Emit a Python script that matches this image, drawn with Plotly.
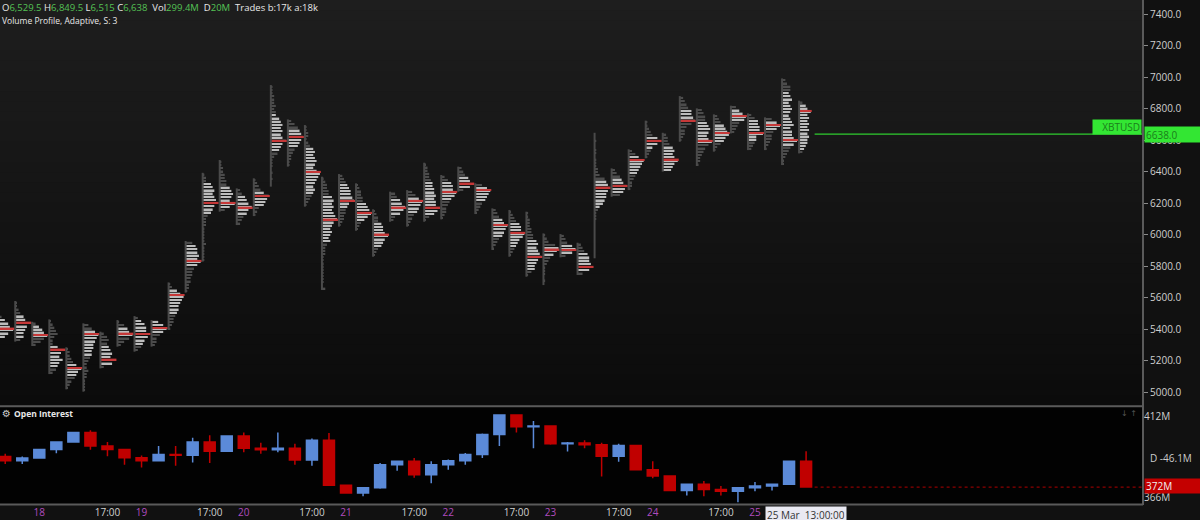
import pandas as pd
import plotly.graph_objects as go

# ---------------- data ----------------
# 4-hour candles, 17 Mar 17:00 .. 25 Mar 13:00 (2020)
candle_times = pd.date_range("2020-03-17 17:00", periods=48, freq="4h")

# volume profile per candle (price range, point of control, value area)
prof_high = [5489, 5578, 5446, 5461, 5284, 5436, 5383, 5457, 5482, 5457, 5696, 5959,
             6392, 6473, 6293, 6357, 6949, 6731, 6695, 6367, 6384, 6325, 6160, 6272,
             6282, 6456, 6378, 6431, 6325, 6166, 6156, 6145, 6007, 6003, 5948, 6646,
             6420, 6541, 6723, 6646, 6879, 6801, 6763, 6818, 6769, 6744, 6991, 6849.5]
prof_low = [5341, 5320, 5292, 5114, 5017, 5002, 5150, 5288, 5256, 5288, 5394, 5631,
            5828, 6145, 6060, 6117, 6304, 6431, 6177, 5648, 6050, 6024, 5859, 6081,
            6050, 6081, 6096, 6272, 6130, 5902, 5859, 5732, 5679, 5855, 5743, 5849,
            6240, 6282, 6484, 6399, 6589, 6435, 6526, 6642, 6536, 6536, 6441, 6515]
prof_poc = [5404, 5442, 5362, 5271, 5154, 5368, 5207, 5372, 5368, 5408, 5616, 5834,
            6202, 6202, 6172, 6246, 6596, 6621, 6399, 6096, 6215, 6139, 6001, 6172,
            6215, 6172, 6272, 6325, 6282, 6060, 6012, 5859, 5906, 5902, 5796, 6299,
            6310, 6473, 6596, 6477, 6723, 6596, 6646, 6752, 6646, 6695, 6600, 6786]
prof_va_high = [5468, 5483, 5425, 5305, 5182, 5404, 5298, 5425, 5457, 5447, 5658, 5944,
                6325, 6314, 6251, 6283, 6759, 6668, 6558, 6251, 6325, 6208, 6081, 6230,
                6240, 6346, 6346, 6378, 6314, 6113, 6071, 5976, 5933, 5933, 5891, 6357,
                6357, 6505, 6632, 6568, 6801, 6727, 6706, 6790, 6727, 6727, 6917, 6833]
prof_va_low = [5351, 5351, 5341, 5150, 5097, 5229, 5171, 5341, 5298, 5372, 5499, 5796,
               6124, 6172, 6124, 6177, 6526, 6547, 6261, 5954, 6166, 6092, 5923, 6134,
               6134, 6124, 6208, 6299, 6208, 5986, 5923, 5775, 5859, 5876, 5764, 6177,
               6251, 6388, 6553, 6409, 6706, 6568, 6589, 6727, 6589, 6653, 6558, 6526]
# relative volume per price row, top row first (0-9)
prof_hist = [
    "2467964", "112356976553", "24679752", "12345322597686542",
    "1223469765321", "357987665543223221111", "24545676972", "14679742",
    "24677986542", "47975332", "125798766543321", "4677879754433221",
    "1225676789765322211111211111", "1122334467876963", "23567976432", "123469876321",
    "11122232335676767976542111010100", "246789876432211",
    "11221235656765798765654321", "123344676767897656545322211111111102",
    "23456778965443321", "123344678975321", "123356679765321", "346798632",
    "35798764321", "1223345566767798631", "24677986543321", "23467973",
    "4798764321", "2346798764321", "123467798654321", "112223344676789765531",
    "1237986432111010", "2347973", "2346778973",
    "0010011011122367898776532111000000000000",
    "235679875", "2469876543221", "112347974321", "233467679765",
    "23457789743321", "345567876797543221", "234678976421", "357985432",
    "246677955432", "4797544321", "235545645654567566797543211", "24575656565655432",
]

# open interest candles (millions of contracts)
oi_open = [389.2, 386.9, 388.4, 393.3, 397.5, 402.9, 395.2, 393.3, 388.6, 386.9, 390.4, 390.0,
           397.5, 392.3, 401.0, 394.0, 393.1, 394.0, 387.3, 398.5, 372.8, 368.5, 371.4, 384.6,
           386.5, 378.8, 384.6, 386.9, 390.4, 401.8, 413.0, 406.2, 406.6, 396.6, 397.0, 396.0,
           389.4, 395.6, 381.7, 378.2, 369.9, 373.4, 370.5, 369.5, 371.4, 372.4, 373.4, 386.5]
oi_high = [390.8, 389.2, 393.7, 397.9, 403.3, 404.3, 397.5, 393.7, 389.8, 395.2, 395.2, 400.0,
           401.4, 401.4, 402.9, 397.1, 402.9, 396.6, 399.5, 402.7, 372.8, 371.8, 385.5, 386.9,
           388.4, 386.5, 387.5, 391.3, 402.4, 413.4, 413.4, 409.5, 407.0, 397.5, 398.5, 397.1,
           396.6, 395.6, 386.5, 378.2, 373.4, 375.3, 372.4, 371.8, 374.7, 373.4, 386.5, 392.3]
oi_low = [385.0, 385.0, 388.2, 391.1, 397.5, 393.1, 389.4, 384.6, 383.0, 386.5, 384.0, 385.9,
          385.5, 392.3, 391.7, 390.8, 391.7, 384.6, 384.0, 372.8, 368.1, 366.6, 370.9, 381.1,
          377.2, 374.0, 381.7, 384.6, 388.4, 395.2, 402.9, 394.0, 396.0, 392.1, 394.0, 377.8,
          386.3, 381.7, 376.9, 369.9, 367.0, 366.6, 367.0, 363.1, 369.5, 369.9, 373.0, 371.8]
oi_close = [386.9, 388.4, 393.3, 397.5, 402.9, 395.2, 393.3, 388.6, 386.9, 390.4, 390.0, 397.5,
            392.3, 401.0, 394.0, 393.1, 394.0, 387.3, 398.5, 372.8, 368.5, 371.4, 384.6, 386.5,
            378.8, 384.6, 386.9, 390.4, 401.8, 413.0, 406.2, 406.6, 396.6, 397.0, 396.0, 389.4,
            395.6, 381.7, 378.2, 369.9, 373.4, 370.5, 369.5, 371.4, 372.4, 373.4, 386.5, 371.8]

symbol = "XBTUSD"
last_ohlc = ["6,529.5", "6,849.5", "6,515", "6,638"]
last_close = 6638.0
vol_text, delta_text = "299.4M", "20M"
trades_text = "Trades b:17k a:18k"
study_text = "Volume Profile, Adaptive, S: 3"
oi_axis_ticks = [412, 366]
oi_delta_text = "D -46.1M"

# ---------------- style ----------------
LIGHT, DARK, POC_RED, RANGE_LINE = "#bcbcbc", "#4c4c4c", "#c63838", "#4a4a4a"
FONT = "Open Sans"
x_range = ["2020-03-17 15:46:30", "2020-03-28 20:05:00"]
y_range = [4917.5, 7489.0]
oi_range = [361.6, 416.9]

HOUR_MS = 3600 * 1000
edge = pd.Timedelta(hours=1.65)
unit = 0.391 * HOUR_MS

bar_base, bar_len, bar_y, bar_w, bar_c = [], [], [], [], []
poc_base, poc_len, poc_y = [], [], []
line_x, line_y = [], []
for i, t in enumerate(candle_times):
    hi, lo, s = prof_high[i], prof_low[i], prof_hist[i]
    step = (hi - lo) / len(s)
    left = t - edge
    ls = left.strftime("%Y-%m-%d %H:%M:%S")
    line_x += [left, left, None]
    line_y += [lo, hi, None]
    for j, ch in enumerate(s):
        v = int(ch)
        if v == 0:
            continue
        p = hi - (j + 0.5) * step
        bar_base.append(ls)
        bar_len.append(v * unit)
        bar_y.append(p)
        bar_w.append(step * 0.5)
        bar_c.append(LIGHT if prof_va_low[i] <= p <= prof_va_high[i] else DARK)
    poc_base.append(ls)
    poc_len.append((max(int(c) for c in s) + 0.6) * unit)
    poc_y.append(prof_poc[i])

fig = go.Figure()

fig.add_trace(go.Scatter(x=line_x, y=line_y, mode="lines",
                         line=dict(color=RANGE_LINE, width=2), hoverinfo="skip",
                         xaxis="x", yaxis="y"))
fig.add_trace(go.Bar(orientation="h", base=bar_base, x=bar_len, y=bar_y, width=bar_w,
                     marker=dict(color=bar_c, line=dict(width=0)), hoverinfo="skip",
                     xaxis="x", yaxis="y"))
fig.add_trace(go.Bar(orientation="h", base=poc_base, x=poc_len, y=poc_y, width=10,
                     marker=dict(color=POC_RED, line=dict(width=0)), hoverinfo="skip",
                     xaxis="x", yaxis="y"))

t_after = candle_times[-1] + pd.Timedelta(hours=2)
fig.add_trace(go.Scatter(x=[t_after, x_range[1]], y=[last_close, last_close], mode="lines",
                         line=dict(color="#2ecc2e", width=1.3), hoverinfo="skip",
                         xaxis="x", yaxis="y"))

fig.add_trace(go.Candlestick(x=candle_times, open=oi_open, high=oi_high, low=oi_low,
                             close=oi_close, whiskerwidth=0,
                             increasing=dict(line=dict(color="#5b8ad8", width=1.5),
                                             fillcolor="#5b8ad8"),
                             decreasing=dict(line=dict(color="#c00000", width=1.5),
                                             fillcolor="#c00000"),
                             hoverinfo="skip", xaxis="x2", yaxis="y2"))
fig.add_trace(go.Scatter(x=[t_after, x_range[1]], y=[oi_close[-1], oi_close[-1]], mode="lines",
                         line=dict(color="#b00000", width=1, dash="dot"), hoverinfo="skip",
                         xaxis="x2", yaxis="y2"))

# x tick labels: "17:00" at 17h candles, day number at first candle of day
tickvals, ticktext = [], []
for t in candle_times[:-3]:
    if t.hour == 17:
        tickvals.append(t)
        ticktext.append("17:00")
    elif t.hour == 1:
        tickvals.append(t)
        ticktext.append(f"<span style='color:#b04cbf'>{t.day}</span>")

# background shapes
shapes = []
n_bands = 40
top_c, bot_c = 30, 11
for b in range(n_bands):
    y0 = 0.198 + (1 - 0.198) * b / n_bands
    y1 = 0.198 + (1 - 0.198) * (b + 1) / n_bands
    c = int(round(bot_c + (top_c - bot_c) * (b + 0.5) / n_bands))
    shapes.append(dict(type="rect", xref="paper", yref="paper", x0=0, x1=1, y0=y0, y1=y1 + 0.002,
                       fillcolor=f"rgb({c},{c},{c})", line=dict(width=0), layer="below"))
shapes.append(dict(type="rect", xref="paper", yref="paper", x0=0, x1=1, y0=0, y1=0.195,
                   fillcolor="#020202", line=dict(width=0), layer="below"))
# separators / borders
shapes.append(dict(type="line", xref="paper", yref="paper", x0=0, x1=1, y0=0.1955, y1=0.1955,
                   line=dict(color="#5a5a5a", width=2)))
shapes.append(dict(type="line", xref="paper", yref="paper", x0=0, x1=1, y0=0.001, y1=0.001,
                   line=dict(color="#5a5a5a", width=2)))
shapes.append(dict(type="line", xref="paper", yref="paper", x0=1, x1=1, y0=0, y1=1,
                   line=dict(color="#5a5a5a", width=2)))

G = "#55c255"
ohlc_html = (f"O<span style='color:{G}'>{last_ohlc[0]}</span> "
             f"H<span style='color:{G}'>{last_ohlc[1]}</span> "
             f"L<span style='color:{G}'>{last_ohlc[2]}</span> "
             f"C<span style='color:{G}'>{last_ohlc[3]}</span>&nbsp; "
             f"Vol<span style='color:{G}'>{vol_text}</span>&nbsp; "
             f"D<span style='color:{G}'>{delta_text}</span>&nbsp; {trades_text}")

annotations = [
    dict(text=ohlc_html, xref="paper", yref="paper", x=0, y=1, xanchor="left", yanchor="top",
         xshift=0, yshift=1, showarrow=False, font=dict(family=FONT, size=9.5, color="#e8e8e8")),
    dict(text=study_text, xref="paper", yref="paper", x=0, y=1, xanchor="left", yanchor="top",
         xshift=0, yshift=-13, showarrow=False, font=dict(family=FONT, size=8.5, color="#e8e8e8")),
    dict(text=symbol, xref="paper", yref="y", x=1, y=last_close, xanchor="right", yanchor="bottom",
         xshift=-1, yshift=-1, showarrow=False, bgcolor="#33e633", width=46, height=12,
         align="right", font=dict(family=FONT, size=10, color="#1b7d1b")),
    dict(text=f"{last_close:.1f}", xref="paper", yref="y", x=1, y=last_close, xanchor="left",
         yanchor="middle", xshift=1, showarrow=False, bgcolor="#33e633", width=53, height=13,
         align="left", font=dict(family=FONT, size=10, color="#1b7d1b")),
    dict(text="⚙", xref="paper", yref="y2 domain", x=0, y=1, xanchor="left", yanchor="middle",
         xshift=0, yshift=-5, showarrow=False, font=dict(family="DejaVu Sans", size=10, color="#cccccc")),
    dict(text="<b>Open Interest</b>", xref="paper", yref="y2 domain", x=0, y=1, xanchor="left",
         yanchor="middle", xshift=12, yshift=-5, showarrow=False,
         font=dict(family=FONT, size=8.5, color="#e8e8e8")),
    dict(text="↓ ↑", xref="paper", yref="y2 domain", x=1, y=1, xanchor="right", yanchor="middle",
         xshift=-4, yshift=-5, showarrow=False, font=dict(family="DejaVu Sans", size=8, color="#555555")),
    dict(text=oi_delta_text, xref="paper", yref="y2", x=1, y=388.5, xanchor="left", yanchor="middle",
         xshift=5, showarrow=False, font=dict(family=FONT, size=10, color="#cccccc")),
    dict(text=f"{round(oi_close[-1])}M", xref="paper", yref="y2", x=1, y=oi_close[-1], xanchor="left",
         yanchor="middle", xshift=1, yshift=1, showarrow=False, bgcolor="#c40000", width=53, height=12,
         align="left", font=dict(family=FONT, size=10, color="#f0f0f0")),
    dict(text=candle_times[-1].strftime("%d %b&nbsp; %H:%M:%S"), xref="x2", yref="paper",
         x=candle_times[-1], y=0, xanchor="center", yanchor="top", yshift=-1, showarrow=False,
         bgcolor="#e9e9f2", height=13, font=dict(family=FONT, size=10, color="#333333")),
]

fig.update_layout(
    width=1200, height=520,
    margin=dict(l=0, r=57, t=0, b=15, autoexpand=False),
    paper_bgcolor="#111111", plot_bgcolor="rgba(0,0,0,0)",
    showlegend=False, barmode="overlay", boxgap=0.08,
    font=dict(family=FONT, size=10, color="#cccccc"),
    xaxis=dict(type="date", domain=[0, 1], anchor="y", range=x_range, showticklabels=False,
               showgrid=False, zeroline=False, showline=False, ticks=""),
    xaxis2=dict(type="date", domain=[0, 1], anchor="y2", range=x_range, matches="x",
                tickvals=tickvals, ticktext=ticktext, ticks="", showgrid=False, zeroline=False,
                rangeslider=dict(visible=False), tickfont=dict(size=10, color="#d0d0d0")),
    yaxis=dict(domain=[0.198, 1], anchor="x", side="right", range=y_range, dtick=200,
               tickformat=".1f", ticks="outside", ticklen=4, tickcolor="#8a8a8a",
               showgrid=False, zeroline=False, tickfont=dict(size=10, color="#cfcfcf")),
    yaxis2=dict(domain=[0, 0.192], anchor="x2", side="right", range=oi_range,
                tickvals=oi_axis_ticks, ticktext=[f"{v}M" for v in oi_axis_ticks], ticks="",
                showgrid=False, zeroline=False, tickfont=dict(size=10, color="#cfcfcf")),
    shapes=shapes, annotations=annotations,
)

fig.write_html("out.html", config={"displayModeBar": False},
               post_script="document.body.style.margin='0';")
